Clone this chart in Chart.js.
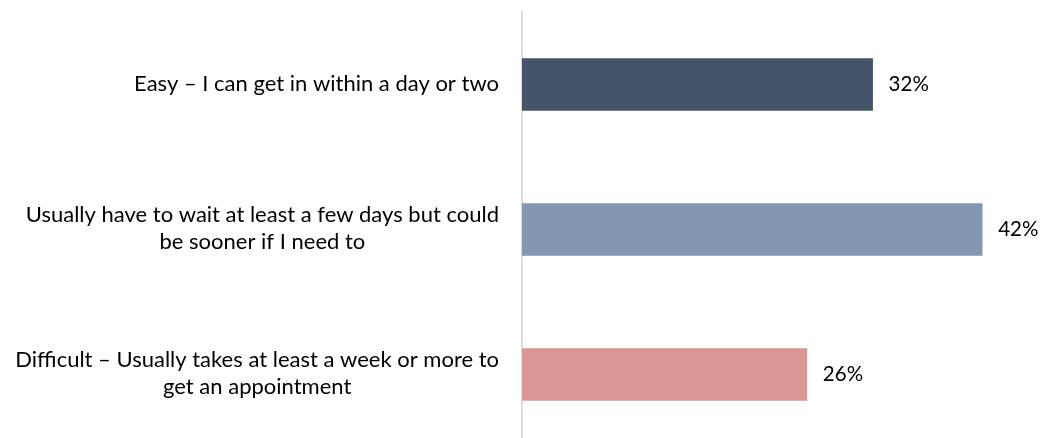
<!DOCTYPE html>
<html>
<head>
<meta charset="utf-8">
<script src="https://cdn.jsdelivr.net/npm/chart.js@4.4.1/dist/chart.umd.min.js"></script>
<style>
  html, body { margin: 0; padding: 0; background: #fff; overflow: hidden; }
  #wrap { width: 1041px; height: 438px; overflow: hidden; }
  #wrap canvas { display: block; }
</style>
</head>
<body>
<div id="wrap"><canvas id="accesoChart" width="1041" height="447"></canvas></div>
<script>
// Datos del gráfico
const categorias = [
    ['Easy – I can get in within a day or two'],
    ['Usually have to wait at least a few days but could', 'be sooner if I need to'],
    ['Difficult – Usually takes at least a week or more to', 'get an appointment']
];
const valores = [32, 42, 26];
const colores = ['#44546A', '#8497B0', '#D99694'];

const FUENTE = '22px Lato, "Liberation Sans", sans-serif';
const FUENTE_VALOR = '20.5px Lato, "Liberation Sans", sans-serif';

// Etiquetas de categoría: bloque alineado a la derecha, líneas centradas
const etiquetasPlugin = {
    id: 'etiquetas',
    afterDraw(chart) {
        const ctx = chart.ctx;
        const yScale = chart.scales.y;
        const meta = chart.getDatasetMeta(0);
        ctx.save();
        ctx.font = FUENTE;
        ctx.fillStyle = '#000';
        ctx.textBaseline = 'middle';

        categorias.forEach((lineas, i) => {
            const cy = yScale.getPixelForValue(i) - 1;
            const anchoMax = Math.max(...lineas.map(l => ctx.measureText(l).width));
            const cx = 499 - anchoMax / 2;
            const alto = 27;
            ctx.textAlign = 'center';
            lineas.forEach((linea, j) => {
                ctx.fillText(linea, cx, cy + (j - (lineas.length - 1) / 2) * alto);
            });
        });

        // valores al final de cada barra
        ctx.font = FUENTE_VALOR;
        ctx.textAlign = 'left';
        meta.data.forEach((bar, i) => {
            ctx.fillText(valores[i] + '%', bar.x + 16, bar.y);
        });
        ctx.restore();
    }
};

const config = {
    type: 'bar',
    data: {
        labels: categorias,
        datasets: [{
            data: valores,
            backgroundColor: colores,
            barThickness: 52
        }]
    },
    options: {
        indexAxis: 'y',
        responsive: false,
        animation: false,
        layout: {
            padding: { top: 12, right: 15, bottom: 0, left: 0 }
        },
        plugins: {
            legend: { display: false },
            tooltip: { enabled: false }
        },
        scales: {
            x: {
                display: false,
                min: 0,
                max: 46
            },
            y: {
                grid: { display: false },
                ticks: { display: false },
                border: { display: true, color: '#DDDDDD', width: 2 },
                afterFit(scale) {
                    scale.width = 522;
                }
            }
        }
    },
    plugins: [etiquetasPlugin]
};

new Chart(document.getElementById('accesoChart'), config);
</script>
</body>
</html>
